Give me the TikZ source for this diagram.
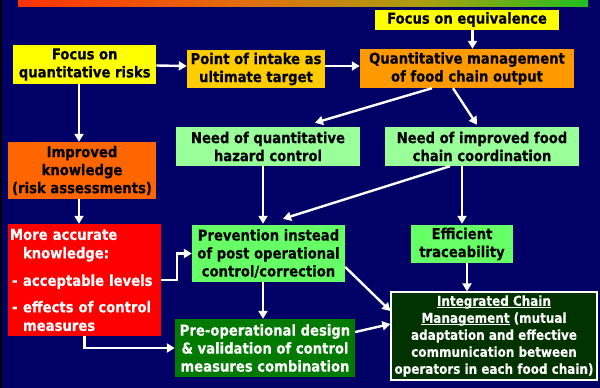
\documentclass[tikz,border=0pt]{standalone}
\usepackage{fontspec}
\setmainfont{DejaVu Sans}[FakeStretch=0.88, BoldFeatures={FakeStretch=0.88, FakeBold=0.25}]
\usetikzlibrary{arrows.meta,calc}

\definecolor{bgnavy}{HTML}{000066}
\definecolor{cYellow}{HTML}{FFFF00}
\definecolor{cGold}{HTML}{FFCC00}
\definecolor{cOrange}{HTML}{FF9900}
\definecolor{cDeepOrange}{HTML}{FF6600}
\definecolor{cRed}{HTML}{FF0000}
\definecolor{cPaleGreen}{HTML}{99FF99}
\definecolor{cGreen}{HTML}{66FF66}
\definecolor{cForest}{HTML}{007A00}
\definecolor{cDarkGreen}{HTML}{003300}
\definecolor{barA}{HTML}{FF3300}
\definecolor{barB}{HTML}{E07010}
\definecolor{barC}{HTML}{A8A010}
\definecolor{barD}{HTML}{20C020}

% underline drawn as a solid bar below the text
\newcommand\thickul[1]{\setbox0\hbox{#1}\rlap{\rule[-2.6pt]{\wd0}{1.3pt}}\box0\relax}

\begin{document}
\begin{tikzpicture}[x=1pt,y=-1pt,
  box/.style={inner sep=1pt, align=center, text=black,
    font=\bfseries\fontsize{15}{18}\selectfont},
  arr/.style={draw=white, line width=2.4pt, -{Triangle[length=8pt,width=9pt]}},
]
% background and title bar
\fill[bgnavy] (0,0) rectangle (600,388);
\fill[black] (0,0) rectangle (1.5,388);
\shade[left color=barA, right color=barB] (18,0) rectangle (250,6);
\shade[left color=barB, right color=barC] (249.5,0) rectangle (430,6);
\shade[left color=barC, right color=barD] (429.5,0) rectangle (588,6);

% boxes
\node[box, fill=cYellow, minimum width=184pt, minimum height=20pt] (equiv) at (467,19.5) {Focus on equivalence};
\node[box, fill=cYellow, minimum width=143pt, minimum height=39pt] (risks) at (84.7,64.5) {Focus on\\quantitative risks};
\node[box, fill=cGold, minimum width=138pt, minimum height=38pt] (intake) at (256,69) {Point of intake as\\ultimate target};
\node[box, fill=cOrange, minimum width=214pt, minimum height=39pt] (qmgmt) at (467,68.5) {Quantitative management\\of food chain output};
\node[box, fill=cPaleGreen, minimum width=184pt, minimum height=39pt] (hazard) at (268,146.5) {Need of quantitative\\hazard control};
\node[box, fill=cPaleGreen, minimum width=194pt, minimum height=39pt] (coord) at (482,146.5) {Need of improved food\\chain coordination};
\node[box, fill=cDeepOrange, minimum width=148pt, minimum height=57pt] (improved) at (82,170.5) {Improved\\knowledge\\(risk assessments)};
\node[box, fill=cRed, text=white, align=left, inner xsep=2pt, text width=149pt,
  minimum width=153pt, minimum height=112pt,
  font=\bfseries\fontsize{15}{18.5}\selectfont] (accurate) at (84.5,280)
  {More accurate\\\hspace*{13pt}knowledge:\\[9pt]
   \makebox[13pt][l]{\hspace{2pt}-}acceptable levels\\[8pt]
   \makebox[13pt][l]{\hspace{2pt}-}effects of control\\\hspace*{13pt}measures};
\node[box, fill=cGreen, minimum width=153pt, minimum height=57pt] (prevent) at (268.5,253.5) {Prevention instead\\of post operational\\control/correction};
\node[box, fill=cGreen, minimum width=102pt, minimum height=38pt] (trace) at (462,244) {Efficient\\traceability};
\node[box, fill=cForest, text=white, minimum width=180pt, minimum height=58pt] (preop) at (265,348) {Pre-operational design\\\& validation of control\\measures combination};
\node[box, fill=cDarkGreen, draw=white, line width=1.2pt, text=white,
  minimum width=206pt, minimum height=88pt,
  font=\bfseries\fontsize{13.6}{17}\selectfont] (icm) at (494,336)
  {\thickul{Integrated Chain}\\\thickul{Management} (mutual\\adaptation and effective\\communication between\\operators in each food chain)};

% connectors
\coordinate (traceout) at ($(trace.south)+(5,0)$);
\draw[arr] ($(equiv.south)+(5.5,0)$) -- ($(qmgmt.north)+(5.5,0)$);
\draw[arr] ($(risks.east)+(0,1)$) -- ($(intake.west)+(0,-3)$);
\draw[arr] ($(intake.east)+(0,-3)$) -- ($(qmgmt.west)+(0,-2.5)$);
\draw[arr] ($(qmgmt.south)+(-35,0)$) -- ($(hazard.north)+(47,-4)$);
\draw[arr] ($(qmgmt.south)+(-14,0)$) -- ($(coord.north)+(-5,-2)$);
\draw[arr] ($(risks.south)+(-5.7,0)$) -- ($(improved.north)+(-3,0)$);
\draw[arr] ($(improved.south)+(-3,0)$) -- ($(accurate.north)+(-5.5,0)$);
\draw[arr] ($(hazard.south)+(-5,0)$) -- ($(prevent.north)+(-5.5,-1)$);
\draw[arr] ($(coord.south)+(-32,0)$) -- ($(prevent.north)+(14.5,-6)$);
\draw[arr] ($(coord.south)+(-20,0)$) -- ($(trace.north)+(0,-1)$);
\draw[arr] (accurate.east) -- ++(16,0) |- (prevent.west);
\draw[arr] (accurate.south) |- (preop.west);
\draw[arr] ($(prevent.south)+(-5.5,0)$) -- ($(preop.north)+(-2,0)$);
\draw[arr] ($(prevent.east)+(0,13.5)$) -- ($(icm.west)+(0,-25)$);
\draw[arr] ($(preop.east)+(0,-16)$) -- ($(icm.west)+(0,-12)$);
\draw[arr] (traceout) -- (traceout |- icm.north);
\end{tikzpicture}
\end{document}
